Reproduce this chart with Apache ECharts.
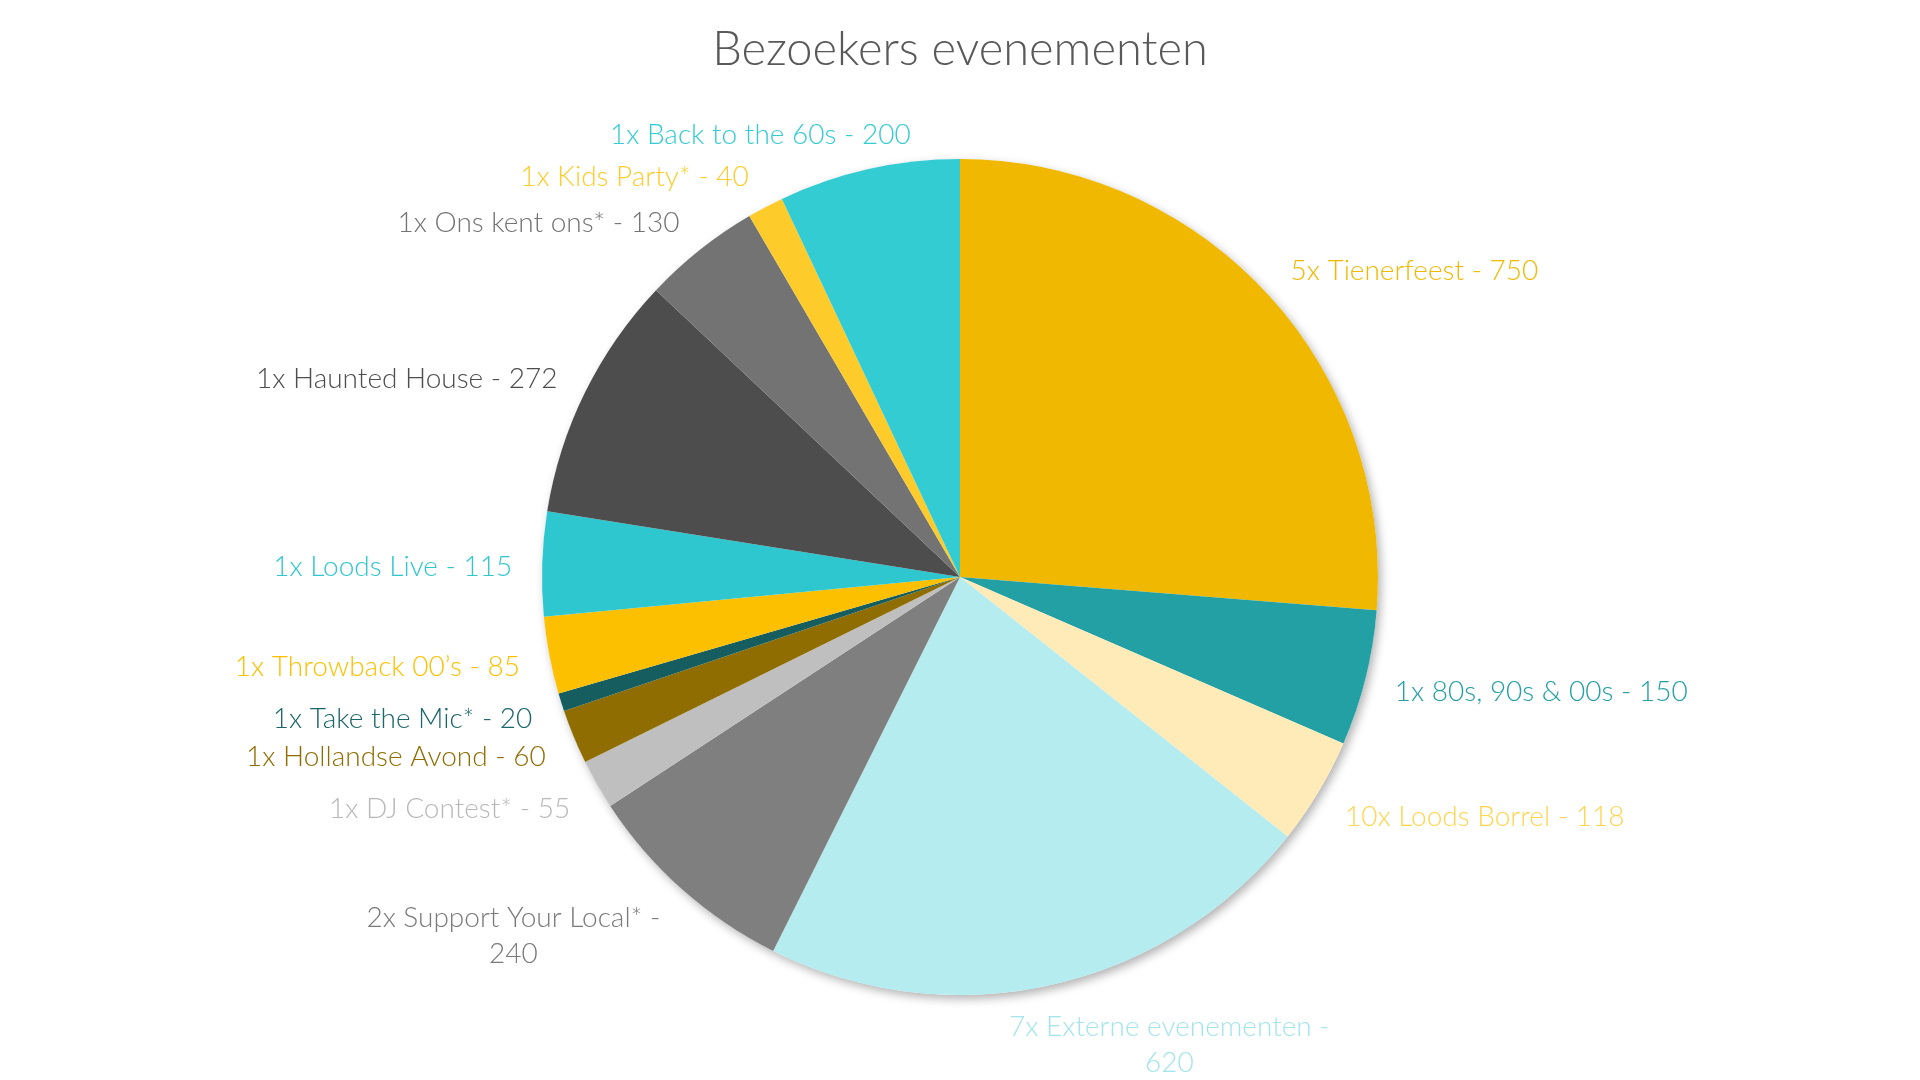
<!DOCTYPE html>
<html>
<head>
<meta charset="utf-8">
<style>
html,body{margin:0;padding:0;background:#ffffff;}
#chart{width:1920px;height:1080px;}
</style>
<script src="https://cdn.jsdelivr.net/npm/echarts@6/dist/echarts.min.js"></script>
</head>
<body>
<div id="chart"></div>
<script>
var titleText = 'Bezoekers evenementen';
var names = [
  '5x Tienerfeest', '1x 80s, 90s & 00s', '10x Loods Borrel', '7x Externe evenementen',
  '2x Support Your Local*', '1x DJ Contest*', '1x Hollandse Avond', '1x Take the Mic*',
  '1x Throwback 00\u2019s', '1x Loods Live', '1x Haunted House', '1x Ons kent ons*',
  '1x Kids Party*', '1x Back to the 60s'
];
var values = [750, 150, 118, 620, 240, 55, 60, 20, 85, 115, 272, 130, 40, 200];
var sliceColors = [
  '#F0B800', '#23A0A4', '#FFEBB8', '#B4ECEF',
  '#7F7F7F', '#BFBFBF', '#8F6D00', '#165D60',
  '#FCC000', '#2EC7D0', '#4D4D4D', '#737373',
  '#FDCB2A', '#33CCD3'
];
var labelColors = [
  '#F0B800', '#23A0A4', '#FFD44F', '#A4E5EA',
  '#7A7A7A', '#B8B8B8', '#8F6D00', '#1A6669',
  '#FCC000', '#2EC7D0', '#4D4D4D', '#737373',
  '#FDCB2A', '#33CCD3'
];
var wrapped = [false, false, false, true, true, false, false, false, false, false, false, false, false, false];

var FONT = 'Lato';
var chart = echarts.init(document.getElementById('chart'));
var total = values.reduce(function (a, b) { return a + b; }, 0);

var data = names.map(function (n, i) {
  return {
    name: n,
    value: values[i],
    itemStyle: { color: sliceColors[i] },
    label: { color: labelColors[i] }
  };
});

chart.setOption({
  backgroundColor: '#ffffff',
  animation: false,
  title: {
    text: titleText,
    left: 'center',
    top: 21,
    textStyle: { fontFamily: FONT, fontWeight: 300, fontSize: 47, color: '#595959' }
  },
  series: [
    {
      type: 'pie',
      silent: true,
      z: 1,
      center: ['50%', '53.43%'],
      radius: 418,
      label: { show: false },
      labelLine: { show: false },
      itemStyle: {
        color: '#ffffff',
        shadowBlur: 10,
        shadowOffsetX: 3,
        shadowOffsetY: 4,
        shadowColor: 'rgba(0,0,0,0.30)'
      },
      data: [{ name: '', value: total }]
    },
    {
      type: 'pie',
      z: 2,
      center: ['50%', '53.43%'],
      radius: 418,
      startAngle: 90,
      clockwise: true,
      avoidLabelOverlap: false,
      itemStyle: { borderWidth: 0 },
      label: {
        show: true,
        position: 'outside',
        distanceToLabelLine: 5,
        fontFamily: FONT,
        fontWeight: 300,
        fontSize: 28,
        lineHeight: 36,
        formatter: function (p) {
          var i = p.dataIndex;
          if (wrapped[i]) {
            return '{c|' + p.name + ' -}\n{c|' + p.value + '}';
          }
          return p.name + ' - ' + p.value;
        },
        rich: {
          c: { align: 'center', fontFamily: FONT, fontWeight: 300, fontSize: 28, lineHeight: 36 }
        }
      },
      labelLine: {
        show: true,
        length: 25,
        length2: 0,
        lineStyle: { opacity: 0, width: 0 }
      },
      labelLayout: function (p) {
        var pts = p.labelLinePoints;
        var dirX = 0, dirY = 0;
        if (pts && pts.length >= 2) {
          var vx = pts[1][0] - pts[0][0];
          var vy = pts[1][1] - pts[0][1];
          var len = Math.sqrt(vx * vx + vy * vy) || 1;
          dirX = vx / len;
          dirY = vy / len;
        }
        var dx = Math.abs(dirX) < 0.3 ? -dirX * 240 : 0;
        var dy = dirY < 0 ? dirY * p.labelRect.height * 0.38 + 4 : dirY * p.labelRect.height * 0.45 + 4;
        return { dx: dx, dy: dy };
      },
      data: data
    }
  ]
});
</script>
</body>
</html>
